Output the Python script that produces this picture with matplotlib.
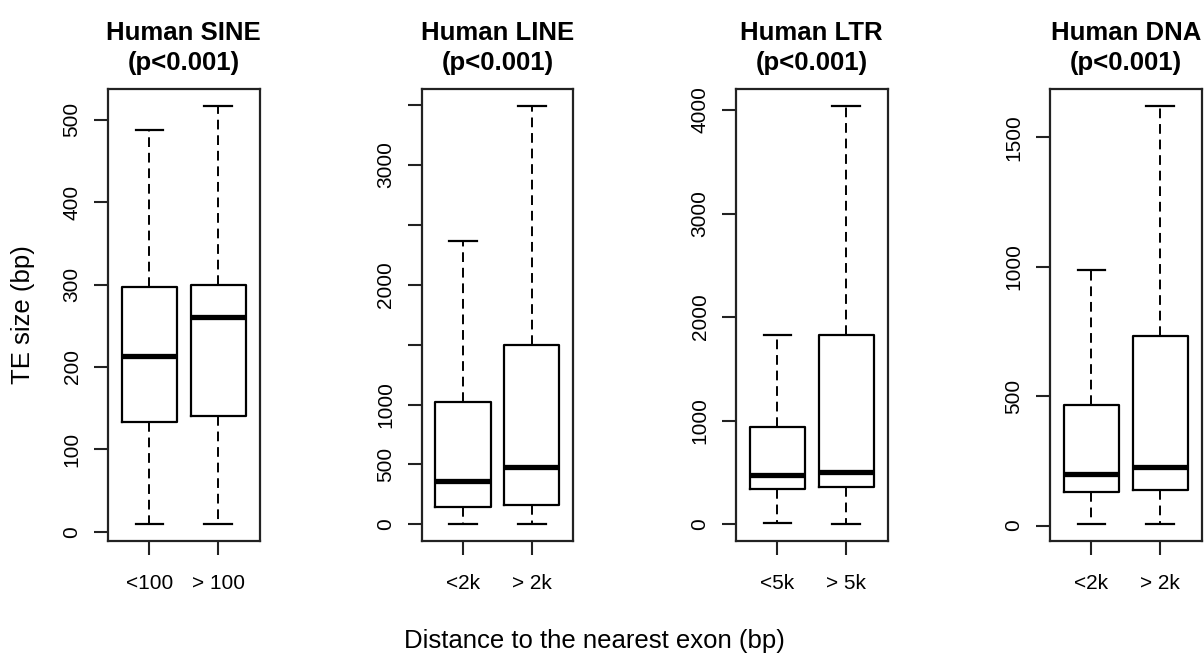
import matplotlib
matplotlib.use("Agg")
import matplotlib.pyplot as plt

plt.rcParams['font.family'] = ['Liberation Sans', 'DejaVu Sans']

# panel titles and group labels
titles = ["Human SINE", "Human LINE", "Human LTR", "Human DNA"]
pvals = ["(p<0.001)", "(p<0.001)", "(p<0.001)", "(p<0.001)"]
groups = [["<100", "> 100"], ["<2k", "> 2k"], ["<5k", "> 5k"], ["<2k", "> 2k"]]

# box stats per panel: [near, far]
whis_lo = [[9, 9], [0, 0], [12, 0], [5, 5]]
q1 = [[133, 140], [147, 165], [337, 357], [128, 136]]
med = [[213, 261], [361, 474], [475, 508], [201, 226]]
q3 = [[297, 299], [1024, 1498], [942, 1827], [466, 732]]
whis_hi = [[487, 517], [2365, 3495], [1827, 4041], [989, 1622]]

# y ticks, and which of them get a label (R drops overlapping ones)
yticks = [[0, 100, 200, 300, 400, 500],
          [0, 500, 1000, 1500, 2000, 2500, 3000, 3500],
          [0, 1000, 2000, 3000, 4000],
          [0, 500, 1000, 1500]]
ylabels = [["0", "100", "200", "300", "400", "500"],
           ["0", "500", "1000", "", "2000", "", "3000", ""],
           ["0", "1000", "2000", "3000", "4000"],
           ["0", "500", "1000", "1500"]]

W, H = 1204, 661
fig = plt.figure(figsize=(W / 100, H / 100), dpi=100)
lefts = [108, 421.7, 736, 1050]

for i in range(4):
    ax = fig.add_axes([lefts[i] / W, 120 / H, 151.5 / W, 452 / H])
    stats = []
    for j in range(2):
        stats.append(dict(whislo=whis_lo[i][j], q1=q1[i][j], med=med[i][j],
                          q3=q3[i][j], whishi=whis_hi[i][j], fliers=[]))
    ax.bxp(stats, positions=[1, 2], widths=0.8, showfliers=False,
           boxprops=dict(lw=1.6, color='black'),
           whiskerprops=dict(lw=1.4, ls=(0, (5, 3)), color='black'),
           capprops=dict(lw=1.6, color='black'),
           medianprops=dict(lw=3.8, color='black', solid_capstyle='butt'))
    ax.set_xlim(0.4, 2.6)
    lo = min(whis_lo[i])
    hi = max(whis_hi[i])
    pad = 0.04 * (hi - lo)
    ax.set_ylim(lo - pad, hi + pad)

    ax.set_xticks([1, 2])
    ax.set_xticklabels(groups[i], fontsize=15)
    ax.set_yticks(yticks[i])
    ax.set_yticklabels(ylabels[i], fontsize=15, rotation=90, va='center')
    ax.tick_params(axis='both', length=10, width=1.5, color='#222222')
    ax.tick_params(axis='x', pad=14)
    ax.tick_params(axis='y', pad=9)
    for s in ax.spines.values():
        s.set_linewidth(1.6)
        s.set_color('#222222')

    ax.set_title(titles[i] + "\n" + pvals[i], fontsize=18.5, fontweight='bold',
                 pad=14, linespacing=1.3)

fig.text(23 / W, 1 - 315 / H, "TE size (bp)", rotation=90, fontsize=18.5,
         ha='center', va='center')
fig.text(594.5 / W, 1 - 641 / H, "Distance to the nearest exon (bp)", fontsize=18.5,
         ha='center', va='center')

fig.savefig("out.png", dpi=100, facecolor='white')
